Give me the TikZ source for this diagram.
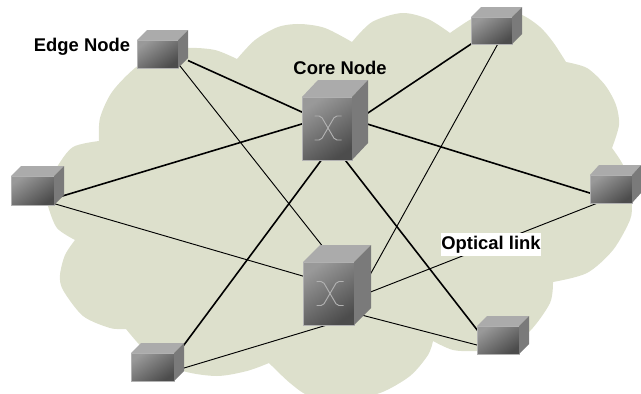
\documentclass[tikz,border=0pt]{standalone}
\usepackage{fontspec}
\setmainfont{Liberation Sans}
\usetikzlibrary{calc}
\definecolor{cloudc}{HTML}{DDE0CC}
\tikzset{
  cubebox/.style={inner sep=0pt,outer sep=0pt,minimum width=#1*0.75pt},
  thicklink/.style={line width=1.2pt,black},
  thinlink/.style={line width=0.7pt,black},
  lbl/.style={font=\bfseries\fontsize{13.8}{15}\selectfont,inner sep=0pt,text=black},
  cubeedge/.style={draw=#1,line width=0.4pt},
  xmark/.style={draw=gray!60!white,line width=0.7pt,rounded corners=1.5pt}
}
% #1 node name, #2 front width, #3 front height, #4 depth x, #5 depth y
\newcommand{\cubefaces}[5]{
  \coordinate (A) at (#1.south west);
  \coordinate (B) at ($(A)+(#2,0)$);
  \coordinate (C) at ($(B)+(0,-#3)$);
  \coordinate (D) at ($(A)+(0,-#3)$);
  \coordinate (E) at ($(D)+(#4,-#5)$);
  \coordinate (F) at ($(C)+(#4,-#5)$);
  \coordinate (G) at ($(B)+(#4,-#5)$);
  \draw[cubeedge=black!30,left color=black!40,right color=black!70,shading angle=35] (A)--(B)--(C)--(D)--cycle;
  \fill[black!33] (D)--(C)--(F)--(E)--cycle;
  \fill[black!52] (C)--(F)--(G)--(B)--cycle;
}
\newcommand{\xglyph}[1]{
  \draw[xmark] ($(#1)+(-13.5,-12)$) -- ++(6.5,0) -- ($(#1)+(7,12)$) -- ++(6.5,0);
  \draw[xmark] ($(#1)+(13.5,-12)$) -- ++(-6.5,0) -- ($(#1)+(-7,12)$) -- ++(-6.5,0);
}
\begin{document}
\begin{tikzpicture}[x=0.75pt,y=-0.75pt]
\useasboundingbox (0,0) rectangle (641,393);
% cloud
\fill[cloudc]
  plot[smooth] coordinates {(99,141)(100,118)(112,92)(135,68)(160,53)(188,48)(215,50)(237,59)}
  -- plot[smooth] coordinates {(237,59)(255,40)(278,27)(300,24)(325,28)(352,42)}
  -- plot[smooth] coordinates {(352,42)(372,22)(402,13)(428,19)(450,33)}
  -- plot[smooth] coordinates {(450,33)(475,17)(500,11)(522,15)(540,27)(553,42)(566,62)}
  -- plot[smooth] coordinates {(566,62)(587,68)(605,85)(616,105)(619,125)(612,148)}
  -- plot[smooth] coordinates {(612,148)(622,163)(632,185)(632,203)(630,220)(613,250)(587,273)(553,282)}
  -- plot[smooth] coordinates {(553,282)(550,303)(530,331)(505,348)(477,351)(453,350)(433,341)}
  -- plot[smooth] coordinates {(433,341)(428,355)(410,376)(380,393)(345,399)(310,396)(290,383)(269,363)}
  -- plot[smooth] coordinates {(269,363)(247,371)(217,376)(183,371)(150,355)(126,329)}
  -- plot[smooth] coordinates {(126,329)(110,328)(83,316)(63,290)(60,275)(65,255)(75,240)}
  -- plot[smooth] coordinates {(75,240)(57,228)(48,206)(46,190)(57,167)(73,147)(99,141)}
  -- cycle;
% cube nodes
\node[cubebox=51,minimum height=38*0.75pt] (tl) at (162.5,49) {};
\node[cubebox=66,minimum height=80*0.75pt] (c1) at (335,120) {};
\node[cubebox=68,minimum height=80*0.75pt] (c2) at (337,285) {};
\node[cubebox=53,minimum height=39*0.75pt] (lf) at (37.5,185.5) {};
\node[cubebox=51,minimum height=37*0.75pt] (tr) at (496.5,25.5) {};
\node[cubebox=51,minimum height=38*0.75pt] (rt) at (615.5,184) {};
\node[cubebox=52,minimum height=38*0.75pt] (br) at (503,335) {};
\node[cubebox=53,minimum height=38*0.75pt] (bl) at (157.5,362) {};
% links
\draw[thicklink] (tl) -- ($(c1)+(0,7)$);
\draw[thicklink] ($(lf)+(0,18)$) -- ($(c1)+(0,-6)$);
\draw[thicklink] ($(tr)+(0,1.5)$) -- ($(c1)+(0,15)$);
\draw[thicklink] ($(rt)+(0,17)$) -- ($(c1)+(0,-6)$);
\draw[thicklink] ($(bl)+(12.5,1.7)$) -- ($(c1)+(0,21.7)$);
\draw[thicklink] ($(br)+(-18,5)$) -- ($(c1)+(0,27)$);
\draw[thinlink] ($(tl)+(2.5,-2)$) -- ($(c2)+(0,-20.5)$);
\draw[thinlink] ($(lf)+(2.5,14)$) -- ($(c2)+(0,1)$);
\draw[thinlink] ($(tr)+(8.5,5.5)$) -- ($(c2)+(18,17)$);
\draw[thinlink] ($(rt)+(0,12)$) -- ($(c2)+(8,17)$);
\draw[thinlink] ($(bl)+(0,14)$) -- ($(c2)+(0,37)$);
\draw[thinlink] ($(br)+(-3,16)$) -- ($(c2)+(13,27)$);
% cubes
\cubefaces{tl}{41}{28}{10}{10}
\cubefaces{c1}{50}{63}{16}{17}
\cubefaces{c2}{51}{63}{17}{17}
\cubefaces{lf}{43}{29}{10}{10}
\cubefaces{tr}{41}{27}{10}{10}
\cubefaces{rt}{42}{28}{9}{10}
\cubefaces{br}{42}{28}{10}{10}
\cubefaces{bl}{43}{28}{10}{10}
\coordinate (x1) at (328,128);
\coordinate (x2) at (330,293.5);
\xglyph{x1}
\xglyph{x2}
% labels
\node[lbl] (edge) at (82,47) {Edge Node};
\node[lbl] (core) at (340,68) {Core Node};
\node[lbl,fill=white,minimum width=75pt,minimum height=17pt] (opt) at (491,244.5) {Optical link};
\end{tikzpicture}
\end{document}
